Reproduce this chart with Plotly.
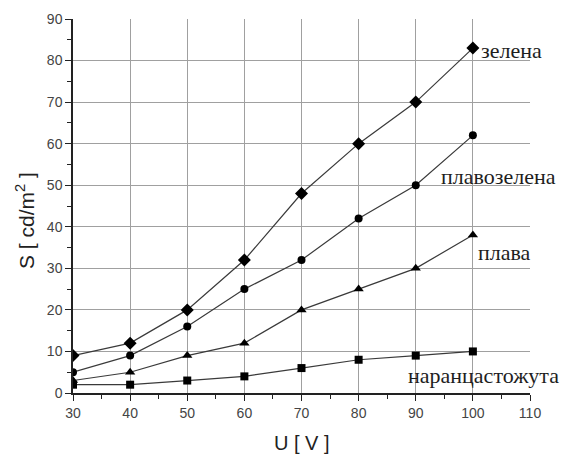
import plotly.graph_objects as go

U = [30, 40, 50, 60, 70, 80, 90, 100]
zelena = [9, 12, 20, 32, 48, 60, 70, 83]
plavozelena = [5, 9, 16, 25, 32, 42, 50, 62]
plava = [3, 5, 9, 12, 20, 25, 30, 38]
narandzasta = [2, 2, 3, 4, 6, 8, 9, 10]

series = [
    ("зелена", zelena, "diamond", 10),
    ("плавозелена", plavozelena, "circle", 8),
    ("плава", plava, "triangle-up", 9),
    ("наранцастожута", narandzasta, "square", 8),
]

label_pos = {
    "зелена": (101.0, 82.5),
    "плавозелена": (94.0, 52.0),
    "плава": (100.5, 33.7),
    "наранцастожута": (88.3, 4.3),
}

fig = go.Figure()
for name, vals, sym, sz in series:
    fig.add_trace(go.Scatter(
        x=U, y=vals, mode="lines+markers", name=name,
        line=dict(color="#3a3a3a", width=1.2),
        marker=dict(symbol=sym, size=sz, color="black"),
        showlegend=False,
    ))

for name, vals, sym, sz in series:
    lx, ly = label_pos[name]
    fig.add_annotation(
        x=lx, y=ly, xref="x", yref="y",
        text=name, showarrow=False, xanchor="left", yanchor="middle",
        font=dict(family="Liberation Serif", size=22, color="#1e1e1e"),
    )

axis_common = dict(
    showline=True, linecolor="#222222", linewidth=1.5,
    ticks="outside", ticklen=6, tickwidth=1.3, tickcolor="#222222",
    showgrid=True, gridcolor="#a0a0a0", gridwidth=1,
    zeroline=False,
    tickfont=dict(family="Liberation Sans", size=14, color="#444444"),
    minor=dict(dtick=5, ticks="outside", ticklen=4, tickwidth=1.2,
               tickcolor="#222222", showgrid=False),
)

fig.update_xaxes(range=[30, 110], dtick=10, tick0=30, **axis_common)
fig.update_yaxes(range=[0, 90], dtick=10, tick0=0, **axis_common)

fig.add_annotation(
    x=0.5, y=-0.135, xref="paper", yref="paper", text="U [ V ]",
    showarrow=False, xanchor="center", yanchor="middle",
    font=dict(family="Liberation Sans", size=20, color="#222222"),
)
fig.add_annotation(
    x=-0.105, y=0.46, xref="paper", yref="paper", text="S [ cd/m<sup>2</sup> ]",
    showarrow=False, textangle=-90, xanchor="center", yanchor="middle",
    font=dict(family="Liberation Sans", size=21, color="#222222"),
)

fig.update_layout(
    width=562, height=459,
    margin=dict(l=73, r=32, t=19, b=66),
    paper_bgcolor="white", plot_bgcolor="white",
)

fig.write_html("out.html")
